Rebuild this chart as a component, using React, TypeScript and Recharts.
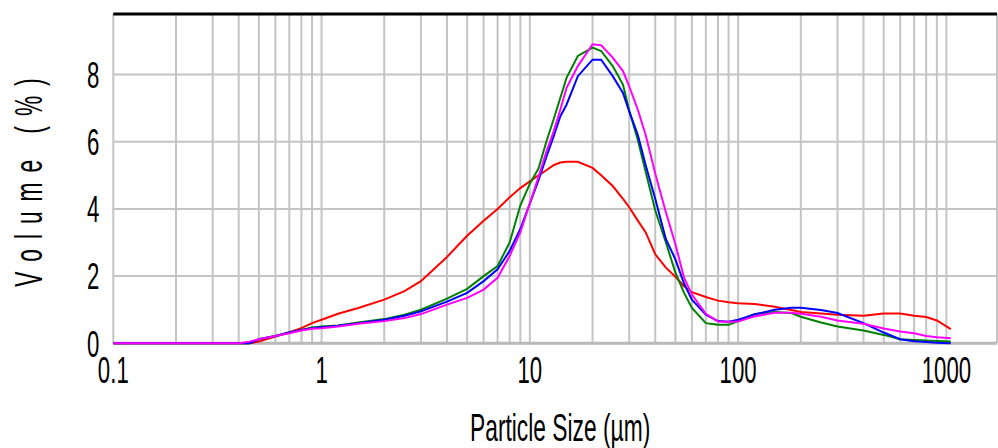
import { LineChart, Line, XAxis, YAxis, CartesianGrid, ReferenceLine, Label } from 'recharts'

// particle size bins (µm) and volume % per sample
const sizes = [
  0.1, 0.2, 0.3, 0.4, 0.45, 0.5, 0.6, 0.7, 0.8, 0.9, 1, 1.2, 1.5, 2, 2.5, 3, 4, 5, 6, 7, 8, 9, 10, 11,
  12, 13, 14, 15, 17, 20, 22, 25, 28, 30, 33, 36, 40, 45, 50, 55, 60, 70, 80, 90, 100, 120, 150, 180,
  200, 250, 300, 400, 500, 600, 700, 800, 900, 1050,
]
const red = [
  0, 0, 0, 0, 0, 0.05, 0.2, 0.33, 0.45, 0.6, 0.7, 0.88, 1.05, 1.3, 1.55, 1.85, 2.57, 3.2, 3.65, 4.0, 4.35,
  4.62, 4.82, 5.0, 5.15, 5.3, 5.38, 5.4, 5.4, 5.22, 5.0, 4.68, 4.3, 4.05, 3.65, 3.3, 2.65, 2.25, 1.98,
  1.7, 1.52, 1.38, 1.27, 1.22, 1.19, 1.17, 1.09, 0.99, 0.93, 0.89, 0.85, 0.82, 0.89, 0.89, 0.82, 0.78,
  0.68, 0.42,
]
const green = [
  0, 0, 0, 0, 0, 0.12, 0.22, 0.32, 0.4, 0.47, 0.5, 0.53, 0.62, 0.72, 0.85, 1.0, 1.33, 1.62, 2.0, 2.3, 3.0,
  4.1, 4.75, 5.2, 6.0, 6.66, 7.3, 7.9, 8.55, 8.8, 8.7, 8.25, 7.7, 6.93, 6.05, 5.1, 3.96, 3.0, 2.1, 1.5,
  1.05, 0.6, 0.55, 0.55, 0.66, 0.87, 0.93, 0.9, 0.79, 0.62, 0.5, 0.38, 0.25, 0.12, 0.1, 0.08, 0.07, 0.05,
]
const blue = [
  0, 0, 0, 0, 0, 0.12, 0.22, 0.32, 0.4, 0.45, 0.48, 0.52, 0.6, 0.7, 0.82, 0.95, 1.24, 1.5, 1.85, 2.2, 2.75,
  3.4, 4.16, 4.85, 5.55, 6.15, 6.75, 7.1, 7.95, 8.44, 8.44, 7.95, 7.45, 6.9, 6.2, 5.3, 4.3, 3.1, 2.5,
  1.78, 1.3, 0.85, 0.66, 0.64, 0.7, 0.86, 1.0, 1.06, 1.06, 0.99, 0.9, 0.6, 0.32, 0.12, 0.06, 0.04, 0.02,
  0,
]
const magenta = [
  0, 0, 0, 0, 0.05, 0.12, 0.22, 0.3, 0.38, 0.43, 0.45, 0.5, 0.58, 0.66, 0.75, 0.87, 1.15, 1.35, 1.6, 1.95,
  2.6, 3.3, 4.16, 4.95, 5.7, 6.3, 6.95, 7.6, 8.25, 8.9, 8.87, 8.5, 8.1, 7.65, 6.95, 6.2, 5.05, 3.9, 2.95,
  1.95, 1.45, 0.88, 0.65, 0.64, 0.65, 0.8, 0.91, 0.91, 0.88, 0.79, 0.68, 0.58, 0.44, 0.35, 0.3, 0.22,
  0.18, 0.15,
]

const gridTicks = [
  0.1, 0.2, 0.3, 0.4, 0.5, 0.6, 0.7, 0.8, 0.9, 1, 2, 3, 4, 5, 6, 7, 8, 9, 10, 20, 30, 40, 50, 60, 70, 80,
  90, 100, 200, 300, 400, 500, 600, 700, 800, 900, 1000,
]
const labelTicks = [0.1, 1, 10, 100, 1000]
const yTicks = [0, 2, 4, 6, 8]

const data = sizes.map((size, i) => ({
  size,
  red: red[i],
  green: green[i],
  blue: blue[i],
  magenta: magenta[i],
}))

const FONT = '"Liberation Sans", Arial, sans-serif'
const SQUEEZE = 0.6

function XTick({ x, y, payload }: any) {
  if (!labelTicks.includes(payload.value)) return null
  return (
    <text
      transform={`translate(${x},${y}) scale(${SQUEEZE},1)`}
      textAnchor="middle"
      dy="0.71em"
      fontSize={37}
      fontFamily={FONT}
      fill="#000"
    >
      {String(payload.value)}
    </text>
  )
}

function YTick({ x, y, payload }: any) {
  return (
    <text
      transform={`translate(${x},${y}) scale(${SQUEEZE},1)`}
      textAnchor="end"
      dy="0.36em"
      fontSize={37}
      fontFamily={FONT}
      fill="#000"
    >
      {payload.value}
    </text>
  )
}

function YTitle({ viewBox }: any) {
  const cx = 28
  const cy = viewBox.y + viewBox.height / 2 + 3
  return (
    <text
      transform={`translate(${cx},${cy}) rotate(-90) scale(${SQUEEZE},1)`}
      textAnchor="middle"
      dy="0.36em"
      fontSize={38}
      fontFamily={FONT}
      letterSpacing={3}
      fill="#000"
      style={{ whiteSpace: 'pre' }}
    >
      {'V o l u m e   ( % )'}
    </text>
  )
}

function XTitle({ viewBox }: any) {
  const cx = viewBox.x + viewBox.width / 2 + 5
  return (
    <text
      transform={`translate(${cx},441) scale(${SQUEEZE},1)`}
      textAnchor="middle"
      fontSize={38}
      fontFamily={FONT}
      fill="#000"
    >
      Particle Size (µm)
    </text>
  )
}

export default function App() {
  return (
    <div style={{ position: 'absolute', left: 0, top: 0, width: 998, height: 448, background: '#fff' }}>
      <LineChart width={998} height={448} data={data} margin={{ top: 14, right: 1, left: 0, bottom: 0 }}>
        <CartesianGrid stroke="#c4c4c4" strokeWidth={2} />
        <ReferenceLine y={0} stroke="#bababa" strokeWidth={3} />
        <XAxis
          dataKey="size"
          type="number"
          scale="log"
          domain={[0.1, 1750]}
          ticks={gridTicks}
          interval={0}
          tick={<XTick />}
          tickLine={false}
          tickSize={6}
          tickMargin={7}
          height={104.7}
          axisLine={false}
        >
          <Label content={<XTitle />} />
        </XAxis>
        <YAxis
          type="number"
          domain={[0, 9.8]}
          ticks={yTicks}
          interval={0}
          tick={<YTick />}
          tickLine={false}
          tickSize={6}
          tickMargin={8}
          width={113.3}
          axisLine={false}
        >
          <Label content={<YTitle />} />
        </YAxis>
        <ReferenceLine y={9.8} stroke="#000" strokeWidth={3} />
        <Line dataKey="red" name="Sample 1" stroke="#ff0000" strokeWidth={2} dot={false} isAnimationActive={false} />
        <Line dataKey="green" name="Sample 2" stroke="#008000" strokeWidth={2} dot={false} isAnimationActive={false} />
        <Line dataKey="blue" name="Sample 3" stroke="#0000ff" strokeWidth={2} dot={false} isAnimationActive={false} />
        <Line dataKey="magenta" name="Sample 4" stroke="#ff00ff" strokeWidth={2} dot={false} isAnimationActive={false} />
      </LineChart>
    </div>
  )
}
